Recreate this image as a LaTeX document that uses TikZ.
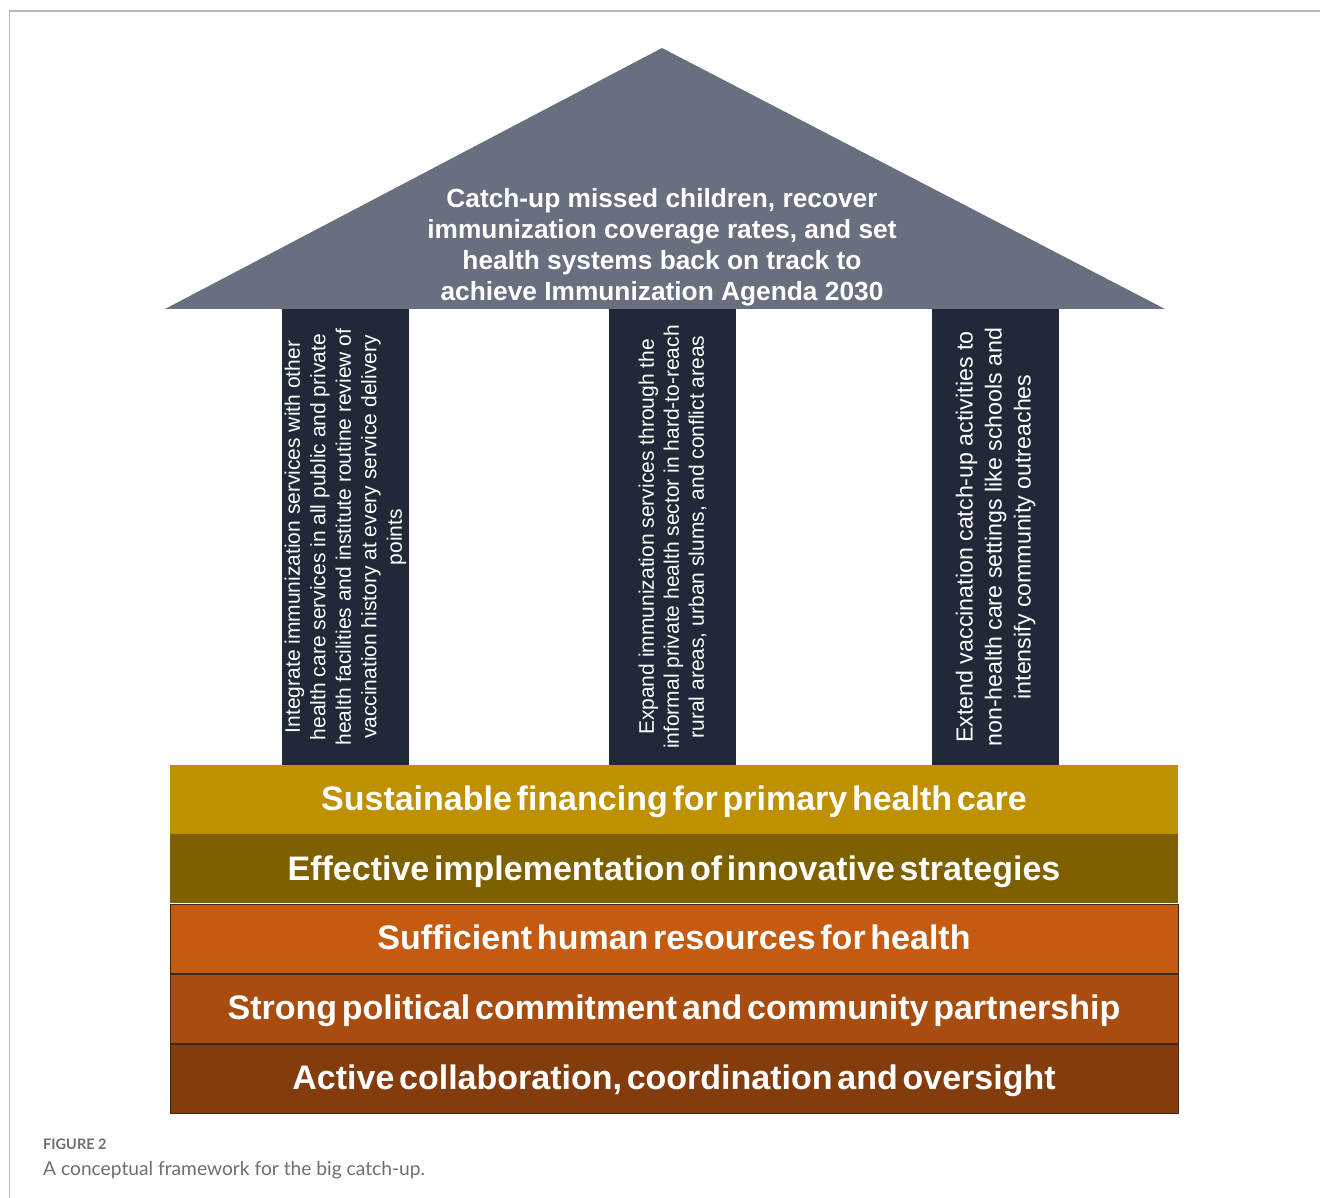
\documentclass[tikz,border=0pt]{standalone}
\usepackage{fontspec}
\setmainfont{Liberation Sans}
\newfontfamily\capfont{Lato}
\newfontfamily\barfont[WordSpace=0.5]{Liberation Sans}
\usetikzlibrary{positioning}

\definecolor{roofgray}{RGB}{104,112,128}
\definecolor{pillarnavy}{RGB}{33,41,56}
\definecolor{goldbar}{RGB}{191,144,0}
\definecolor{olivebar}{RGB}{127,96,0}
\definecolor{orangebar}{RGB}{197,90,17}
\definecolor{rustbar}{RGB}{168,76,16}
\definecolor{brownbar}{RGB}{132,60,12}
\definecolor{barline}{RGB}{60,40,30}
\definecolor{framegray}{RGB}{184,184,184}
\definecolor{captiongray}{RGB}{110,110,110}

\tikzset{
  pillar/.style = {fill=pillarnavy, text=white, rotate=90, inner sep=0pt,
                   minimum width=456pt, minimum height=127pt, align=center},
  layer/.style  = {text=white, inner sep=0pt, minimum width=1008pt, minimum height=69pt,
                   text depth=2pt, font=\barfont\fontsize{34}{38}\selectfont\bfseries},
  edged/.style  = {draw=barline, line width=1pt}
}

\begin{document}
\begin{tikzpicture}[x=1pt, y=-1pt]

\useasboundingbox (0,0) rectangle (1320,1198);

% frame round the figure
\draw [framegray, line width=1.5pt] (9.5,1198) -- (9.5,11) -- (1320,11);

% roof
\fill [roofgray] (165,309) -- (662,48) -- (1165,309) -- cycle;
\node (goal) at (662,247) [text=white, align=center, font=\fontsize{26.3}{31}\selectfont\bfseries]
  {Catch-up missed children, recover\\
   immunization coverage rates, and set\\
   health systems back on track to\\
   achieve Immunization Agenda 2030};

% pillars
\node [pillar, font=\fontsize{21}{25.5}\selectfont] (integrate) at (345.5,537)
  {Integrate immunization services with other\\
   health care services in all public and private\\
   health facilities and institute routine review of\\
   vaccination history at every service delivery\\
   points};
\node [pillar, font=\fontsize{21}{25}\selectfont] (expand) at (672.5,537)
  {Expand immunization services through the\\
   informal private health sector in hard-to-reach\\
   rural areas, urban slums, and conflict areas};
\node [pillar, font=\fontsize{23.2}{29}\selectfont] (extend) at (995.5,537)
  {Extend vaccination catch-up activities to\\
   non-health care settings like schools and\\
   intensify community outreaches};

% foundation layers
\node [layer, fill=goldbar] (financing) at (674,799.5) {Sustainable financing for primary health care};
\node [layer, fill=olivebar, below=0pt of financing] (strategies) {Effective implementation of innovative strategies};
\node [layer, fill=orangebar, edged, below=0pt of strategies] (workforce) {Sufficient human resources for health};
\node [layer, fill=rustbar, edged, below=0pt of workforce] (commitment) {Strong political commitment and community partnership};
\node [layer, fill=brownbar, edged, below=0pt of commitment] (oversight) {Active collaboration, coordination and oversight};

% caption
\node [anchor=base west, inner sep=0pt, text=captiongray, font=\capfont\fontsize{14.5}{16}\selectfont\bfseries] (fig) at (43,1149) {FIGURE 2};
\node [anchor=base west, inner sep=0pt, text=captiongray, font=\capfont\fontsize{19.2}{22}\selectfont] (caption) at (43,1175) {A conceptual framework for the big catch-up.};

\end{tikzpicture}
\end{document}
